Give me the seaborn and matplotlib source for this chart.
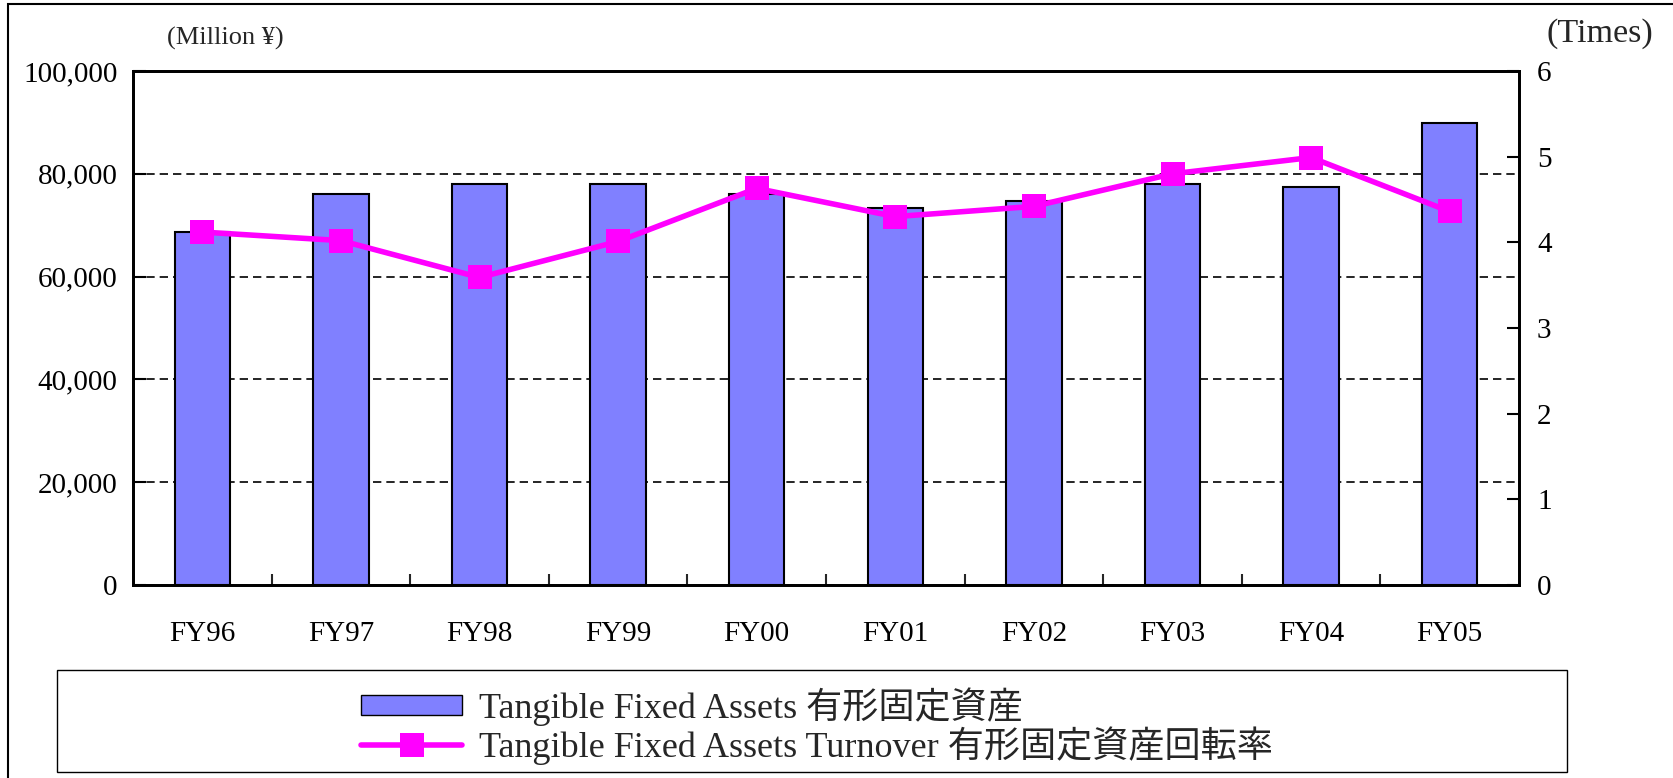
# Tangible fixed assets (bars) and turnover (line) FY96-FY05
import numpy as np
import pandas as pd
import seaborn as sns
import matplotlib.pyplot as plt
from matplotlib.patches import Rectangle, Patch
from matplotlib.lines import Line2D
from matplotlib.ticker import FuncFormatter, FixedLocator

# values
years = ["FY96", "FY97", "FY98", "FY99", "FY00", "FY01", "FY02", "FY03", "FY04", "FY05"]
assets = [68700, 76000, 78100, 78100, 76100, 73400, 74700, 78100, 77500, 89900]
turnover = [4.12, 4.02, 3.59, 4.01, 4.63, 4.30, 4.42, 4.80, 4.99, 4.36]
left_ticks = [0, 20000, 40000, 60000, 80000, 100000]
right_ticks = [0, 1, 2, 3, 4, 5, 6]

bar_label = "Tangible Fixed Assets 有形固定資産"
line_label = "Tangible Fixed Assets Turnover 有形固定資産回転率"

sns.set_style("white")
plt.rcParams['font.family'] = ['Liberation Serif', 'Noto Sans CJK JP']

W, H = 1674, 778
fig = plt.figure(figsize=(W / 100, H / 100), dpi=100)
ax = fig.add_axes([133 / W, 1 - 585 / H, (1519 - 133) / W, (585 - 71) / H])

df = pd.DataFrame({'year': years, 'assets': assets, 'turnover': turnover})

# bars
sns.barplot(data=df, x='year', y='assets', ax=ax, color='#8080FF', saturation=1,
            width=0.4, edgecolor='black', linewidth=1.5, zorder=2)

# dashed gridlines behind bars
ax.set_axisbelow(True)
ax.yaxis.grid(True, linestyle=(0, (5, 3)), color='black', linewidth=1.2)
ax.xaxis.grid(False)
ax.set_ylim(0, 100000)
ax.yaxis.set_major_locator(FixedLocator(left_ticks))
ax.yaxis.set_major_formatter(FuncFormatter(lambda v, p: f"{int(v):,}"))
ax.set_xlabel('')
ax.set_ylabel('')

# turnover line on right axis
ax2 = ax.twinx()
sns.lineplot(data=df, x='year', y='turnover', ax=ax2, sort=False, color='#FF00FF',
             linewidth=4, marker='s', markersize=17, markeredgewidth=0,
             markeredgecolor='#FF00FF', zorder=5)
ax2.set_ylim(0, 6)
ax2.yaxis.set_major_locator(FixedLocator(right_ticks))
ax2.grid(False)
ax2.set_ylabel('')
ax2.set_xlabel('')
ax.set_xlim(-0.5, len(years) - 0.5)

# ticks
ax.tick_params(axis='y', direction='in', length=9, width=1.5, pad=11, labelsize=21, colors='black')
ax2.tick_params(axis='y', direction='in', length=9, width=1.5, pad=13, labelsize=21, colors='black')
ax.tick_params(axis='x', which='major', length=0, pad=26, labelsize=21, colors='black')
ax.xaxis.set_minor_locator(FixedLocator(np.arange(0.5, len(years) - 1, 1.0)))
ax.tick_params(axis='x', which='minor', direction='in', length=8, width=1.5, bottom=True)

for a in (ax, ax2):
    for s in a.spines.values():
        s.set_visible(True)
        s.set_color('black')
        s.set_linewidth(2)

# unit labels
fig.text(225 / W, 1 - 38 / H, "(Million ¥)", ha='center', va='center', fontsize=19)
fig.text(1600 / W, 1 - 34 / H, "(Times)", ha='center', va='center', fontsize=24.5)

# outer frame of the figure
fig.patches.append(Rectangle((8 / W, -0.1), 1.2, 1 - 4 / H + 0.1, transform=fig.transFigure,
                             fill=False, edgecolor='black', linewidth=1.5))

# legend box
fig.patches.append(Rectangle((57 / W, 1 - 772 / H), 1510 / W, 102 / H, transform=fig.transFigure,
                             fill=False, edgecolor='black', linewidth=1))
handles = [
    Patch(facecolor='#8080FF', edgecolor='black', linewidth=1),
    Line2D([], [], color='#FF00FF', linewidth=4, marker='s', markersize=17, markeredgewidth=0),
]
fig.legend(handles, [bar_label, line_label], loc='center', bbox_to_anchor=(817 / W, 1 - 726 / H),
           frameon=False, fontsize=26, handlelength=2.8, handleheight=0.5,
           handletextpad=0.45, labelspacing=0.0)

plt.savefig('out.png', dpi=100)
